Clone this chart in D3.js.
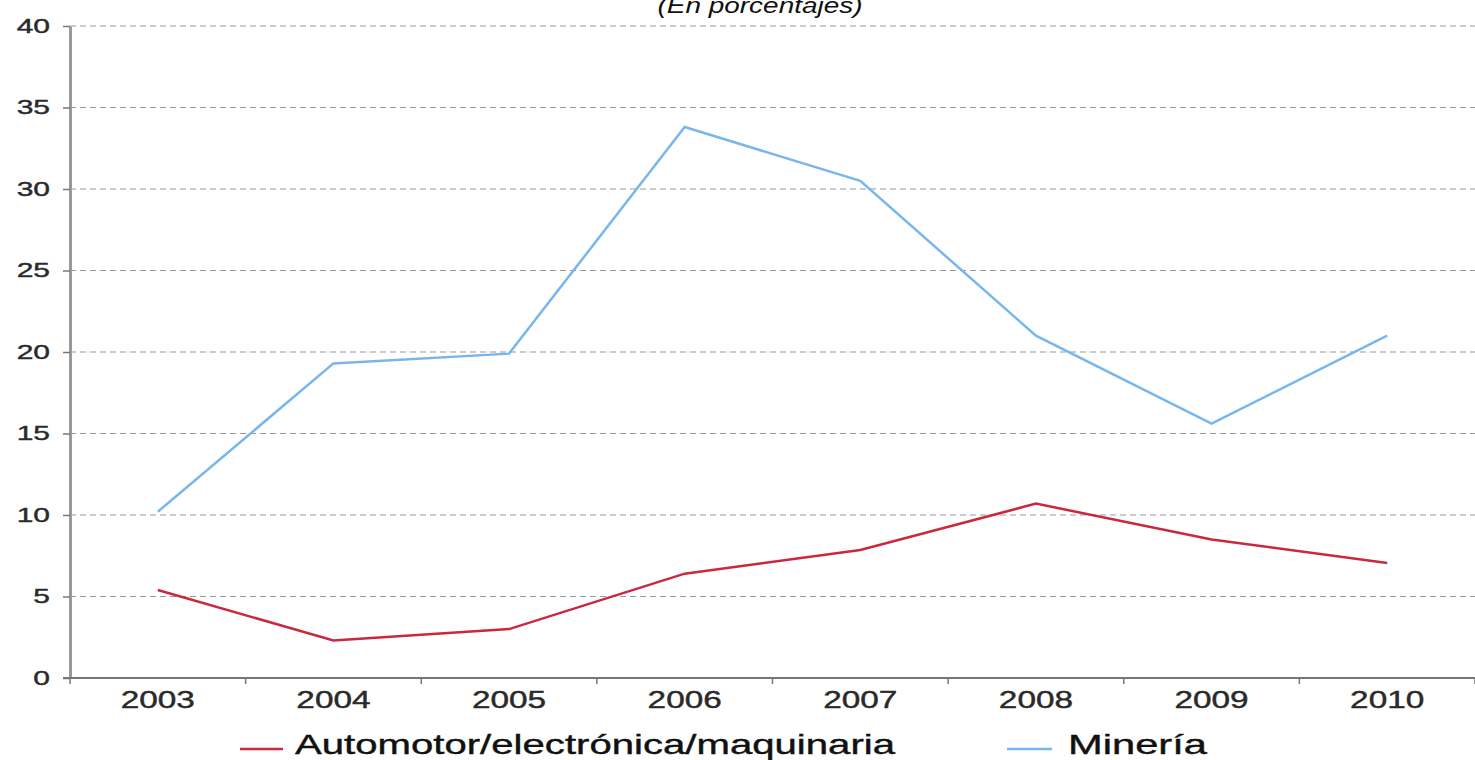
<!DOCTYPE html>
<html>
<head>
<meta charset="utf-8">
<title>En porcentajes</title>
<script src="https://d3js.org/d3.v7.min.js"></script>
<style>
  body { margin: 0; background: #fff; }
  text { font-family: "Liberation Sans", Arial, sans-serif; }
</style>
</head>
<body>
<div id="chart"></div>
<script>
// data
const years = ["2003", "2004", "2005", "2006", "2007", "2008", "2009", "2010"];
const automotor = [5.4, 2.3, 3.0, 6.4, 7.85, 10.7, 8.5, 7.05];
const mineria = [10.2, 19.3, 19.9, 33.8, 30.5, 21.0, 15.6, 21.0];
const yTicks = [0, 5, 10, 15, 20, 25, 30, 35, 40];
const seriesNames = ["Automotor/electrónica/maquinaria", "Minería"];
const seriesColors = ["#c9283e", "#78b6ec"];

const W = 1475, H = 760;
const margin = {top: 26, right: 0, bottom: 82, left: 70};
const w = W - margin.left - margin.right;
const h = H - margin.top - margin.bottom;

const svg = d3.select("#chart").append("svg")
    .attr("width", W).attr("height", H);

// subtitle, partly cut at the top like the source image
svg.append("text")
    .attr("x", 760).attr("y", 13)
    .attr("text-anchor", "middle")
    .attr("font-style", "italic")
    .attr("font-size", 22)
    .attr("textLength", 205)
    .attr("lengthAdjust", "spacingAndGlyphs")
    .attr("fill", "#111")
    .text("(En porcentajes)");

const g = svg.append("g")
    .attr("transform", "translate(" + margin.left + "," + margin.top + ")");

const x = d3.scaleBand().domain(years).range([0, w]);
const y = d3.scaleLinear().domain([0, 40]).range([h, 0]);

// gridlines
g.selectAll(".grid").data(yTicks.filter(d => d > 0)).enter()
    .append("line")
    .attr("x1", 0).attr("x2", w)
    .attr("y1", d => y(d)).attr("y2", d => y(d))
    .attr("stroke", "#9a9a9a")
    .attr("stroke-width", 1.2)
    .attr("stroke-dasharray", "6,4");

// y axis
const yAxis = g.append("g")
    .call(d3.axisLeft(y).tickValues(yTicks).tickSize(7).tickSizeOuter(0).tickPadding(0));
yAxis.select(".domain").attr("stroke", "#999").attr("stroke-width", 3);
yAxis.selectAll(".tick line").attr("stroke", "#777").attr("stroke-width", 1.5);
// the source labels are stretched sideways
yAxis.selectAll("text")
    .attr("x", 0)
    .attr("transform", "translate(-20,0) scale(1.5,1)")
    .attr("font-size", 20).attr("fill", "#2a2a2a")
    .attr("stroke", "#2a2a2a").attr("stroke-width", 0.4)
    .attr("font-family", "Liberation Sans, Arial, sans-serif");

// x axis with ticks at band edges
const xAxis = g.append("g").attr("transform", "translate(0," + h + ")");
xAxis.append("line")
    .attr("x1", -7).attr("x2", w)
    .attr("stroke", "#777").attr("stroke-width", 2);
const edges = years.map(d => x(d)).concat([w]);
xAxis.selectAll(".edge").data(edges).enter()
    .append("line")
    .attr("x1", d => d).attr("x2", d => d)
    .attr("y1", 0).attr("y2", 6)
    .attr("stroke", "#777").attr("stroke-width", 1.5);
xAxis.selectAll(".lab").data(years).enter()
    .append("text")
    .attr("transform", d => "translate(" + (x(d) + x.bandwidth() / 2) + ",30) scale(1.45,1)")
    .attr("text-anchor", "middle")
    .attr("font-size", 23).attr("fill", "#2a2a2a")
    .attr("stroke", "#2a2a2a").attr("stroke-width", 0.4)
    .text(d => d);

// lines
const line = d3.line()
    .x((d, i) => x(years[i]) + x.bandwidth() / 2)
    .y(d => y(d));

[automotor, mineria].forEach(function(s, i) {
    g.append("path")
        .datum(s)
        .attr("fill", "none")
        .attr("stroke", seriesColors[i])
        .attr("stroke-width", 2.5)
        .attr("d", line);
});

// legend
const legendX = [240, 1007];
const legendW = [600, 139];
const leg = svg.selectAll(".leg").data(seriesNames).enter()
    .append("g")
    .attr("transform", (d, i) => "translate(" + legendX[i] + ",749)");
leg.append("line")
    .attr("x1", 0).attr("x2", (d, i) => i == 0 ? 43 : 45)
    .attr("stroke", (d, i) => seriesColors[i])
    .attr("stroke-width", 2.5);
leg.append("text")
    .attr("x", (d, i) => i == 0 ? 55 : 61)
    .attr("y", 5)
    .attr("font-size", 28)
    .attr("textLength", (d, i) => legendW[i])
    .attr("lengthAdjust", "spacingAndGlyphs")
    .attr("fill", "#111")
    .attr("stroke", "#111").attr("stroke-width", 0.4)
    .text(d => d);
</script>
</body>
</html>
